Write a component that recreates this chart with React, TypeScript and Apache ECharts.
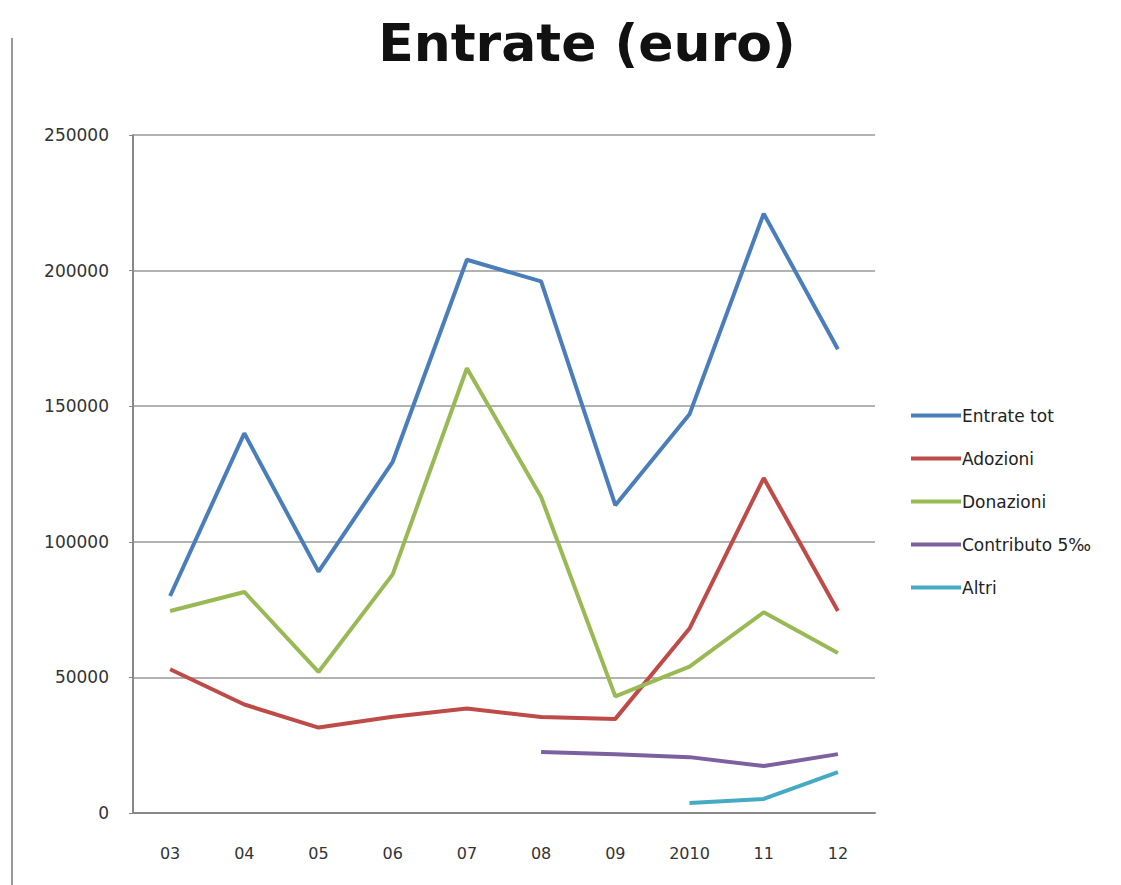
import React, { useEffect, useRef } from "react";
import * as echarts from "echarts";

const categories = ["03", "04", "05", "06", "07", "08", "09", "2010", "11", "12"];
const entrateTot = [80000, 140000, 89000, 129500, 204000, 196000, 113500, 147000, 221000, 171000];
const adozioni = [53000, 40000, 31500, 35500, 38500, 35400, 34700, 68000, 123500, 74500];
const donazioni = [74500, 81500, 52000, 88000, 164000, 116500, 43000, 54000, 74000, 59000];
const contributo = [null, null, null, null, null, 22500, 21700, 20600, 17300, 21700];
const altri = [null, null, null, null, null, null, null, 3700, 5200, 15100];
const seriesNames = ["Entrate tot", "Adozioni", "Donazioni", "Contributo 5‰", "Altri"];
const seriesColors = ["#4a7ebb", "#be4b48", "#98b954", "#7d60a0", "#46aac5"];
const seriesData = [entrateTot, adozioni, donazioni, contributo, altri];

export default function App() {
  const ref = useRef<HTMLDivElement>(null);
  useEffect(() => {
    document.body.style.margin = "0";
    const chart = echarts.init(ref.current!, undefined, { renderer: "svg" });
    chart.setOption({
      animation: false,
      backgroundColor: "#ffffff",
      title: {
        text: "Entrate (euro)",
        left: 582,
        top: 12,
        textAlign: "center",
        textStyle: {
          fontFamily: "DejaVu Sans",
          fontWeight: "bold",
          fontSize: 52,
          color: "#111",
        },
      },
      graphic: [
        {
          type: "line",
          shape: { x1: 12, y1: 38, x2: 12, y2: 885 },
          style: { stroke: "#999", lineWidth: 2 },
        },
      ],
      legend: {
        orient: "vertical",
        left: 906,
        top: 402,
        icon: "rect",
        itemWidth: 50,
        itemHeight: 4,
        itemGap: 26,
        textStyle: { fontFamily: "DejaVu Sans", fontSize: 17, color: "#222", padding: [0, 0, 0, -4] },
        data: seriesNames,
      },
      grid: { left: 133, right: 246, top: 135, bottom: 72, containLabel: false },
      xAxis: {
        type: "category",
        data: categories,
        boundaryGap: true,
        axisLine: { lineStyle: { color: "#888", width: 2 } },
        axisTick: { show: false },
        axisLabel: { margin: 32, fontFamily: "DejaVu Sans", fontSize: 16, color: "#333" },
      },
      yAxis: {
        type: "value",
        min: 0,
        max: 250000,
        interval: 50000,
        axisLine: { show: true, lineStyle: { color: "#888", width: 2 } },
        axisTick: { show: true, length: 4, lineStyle: { color: "#888" } },
        axisLabel: {
          margin: 24,
          fontFamily: "DejaVu Sans",
          fontSize: 17,
          color: "#333",
          formatter: (v: number) => String(v),
        },
        splitLine: { lineStyle: { color: "#999", width: 1.5 } },
      },
      series: seriesNames.map((name, i) => ({
        name,
        type: "line",
        data: seriesData[i],
        showSymbol: false,
        symbol: "none",
        connectNulls: false,
        color: seriesColors[i],
        lineStyle: { width: 4, color: seriesColors[i] },
      })),
    });
    return () => chart.dispose();
  }, []);
  return <div ref={ref} style={{ width: 1121, height: 885 }} />;
}
